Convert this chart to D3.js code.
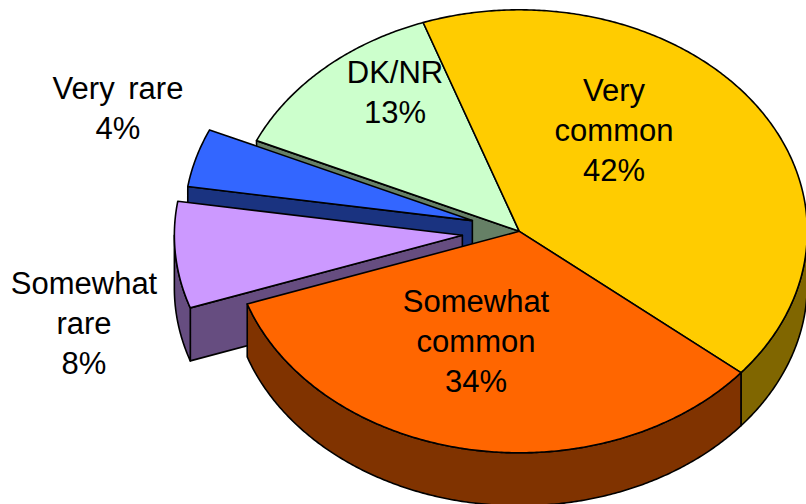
<!DOCTYPE html>
<html><head><meta charset="utf-8">
<script src="https://cdnjs.cloudflare.com/ajax/libs/d3/7.8.5/d3.min.js"></script>
<style>html,body{margin:0;padding:0;background:#fff;overflow:hidden}svg{display:block}
text{font-family:"Liberation Sans",Arial,sans-serif;font-size:31px;fill:#000;text-anchor:middle;word-spacing:5px}</style>
</head><body><svg id="c" width="806" height="504"></svg>
<script>
const categories = ["Very common","Somewhat common","Somewhat rare","Very rare","DK/NR"];
const values = [41.85,34,7.85,4.3,13];
const labelLines = [["Very","common","42%"],["Somewhat","common","34%"],["Somewhat","rare","8%"],["Very rare","4%"],["DK/NR","13%"]];
const topColors = ["#FFCC00","#FF6600","#CC99FF","#3366FF","#CCFFCC"];
const sideColors = ["#806600","#803300","#664D80","#1A3380","#668066"];
const explode = [0,0,0.1985,0.17,0];

const W=806,H=504, cx=519.3, cy=231.3, rx=288, ry=221.5, depth=53;
const labelPos=[[614,101],[476,312],[84,294],[118,99],[395,83]];
const lineH=40;
const rad=Math.PI/180;
const sx=d3.scaleLinear().domain([-1,1]).range([cx-rx,cx+rx]);
const sy=d3.scaleLinear().domain([-1,1]).range([cy+ry,cy-ry]);
const pie=d3.pie().sort(null).startAngle(-19.5*rad).endAngle(340.5*rad);
const arcs=pie(values);
const svg=d3.select("#c");
const line=d3.line();
const closed=pts=>line(pts)+"Z";
const n=values.length;

const slices=arcs.map((a,i)=>{
  const mid=(a.startAngle+a.endAngle)/2;
  const ox=Math.sin(mid)*explode[i], oy=Math.cos(mid)*explode[i];
  const P=(ang,z=0)=>[sx(Math.sin(ang)+ox),sy(Math.cos(ang)+oy)+z];
  const A=(z=0)=>[sx(ox),sy(oy)+z];
  return {i,a,mid,P,A};
}).sort((p,q)=>Math.cos(q.mid)-Math.cos(p.mid));

function arcPts(P,a0,a1,z){
  const m=Math.max(2,Math.ceil((a1-a0)/(0.5*rad)));
  return d3.range(m+1).map(k=>P(a0+(a1-a0)*k/m,z));
}
slices.forEach(s=>{
  const {i,a,P,A}=s, g=svg.append("g");
  const draw=(pts,fill)=>g.append("path").attr("d",closed(pts)).attr("fill",fill)
     .attr("stroke","#000").attr("stroke-width",1.6).attr("stroke-linejoin","round");
  const prev=(i+n-1)%n, next=(i+1)%n;
  const flushPrev=!explode[i]&&!explode[prev], flushNext=!explode[i]&&!explode[next];
  if(Math.sin(a.endAngle)>0&&!flushNext) draw([A(),P(a.endAngle),P(a.endAngle,depth),A(depth)],sideColors[i]);
  if(Math.sin(a.startAngle)<0&&!flushPrev) draw([A(),P(a.startAngle),P(a.startAngle,depth),A(depth)],sideColors[i]);
  const w0=Math.max(a.startAngle,90*rad), w1=Math.min(a.endAngle,270*rad);
  if(w1>w0) draw(arcPts(P,w0,w1,0).concat(arcPts(P,w0,w1,depth).reverse()),sideColors[i]);
  draw([A()].concat(arcPts(P,a.startAngle,a.endAngle,0)),topColors[i]);
});
labelLines.forEach((ls,i)=>{
  const t=svg.append("text");
  ls.forEach((l,k)=>t.append("tspan").attr("x",labelPos[i][0]).attr("y",labelPos[i][1]+k*lineH).text(l));
});
</script></body></html>
